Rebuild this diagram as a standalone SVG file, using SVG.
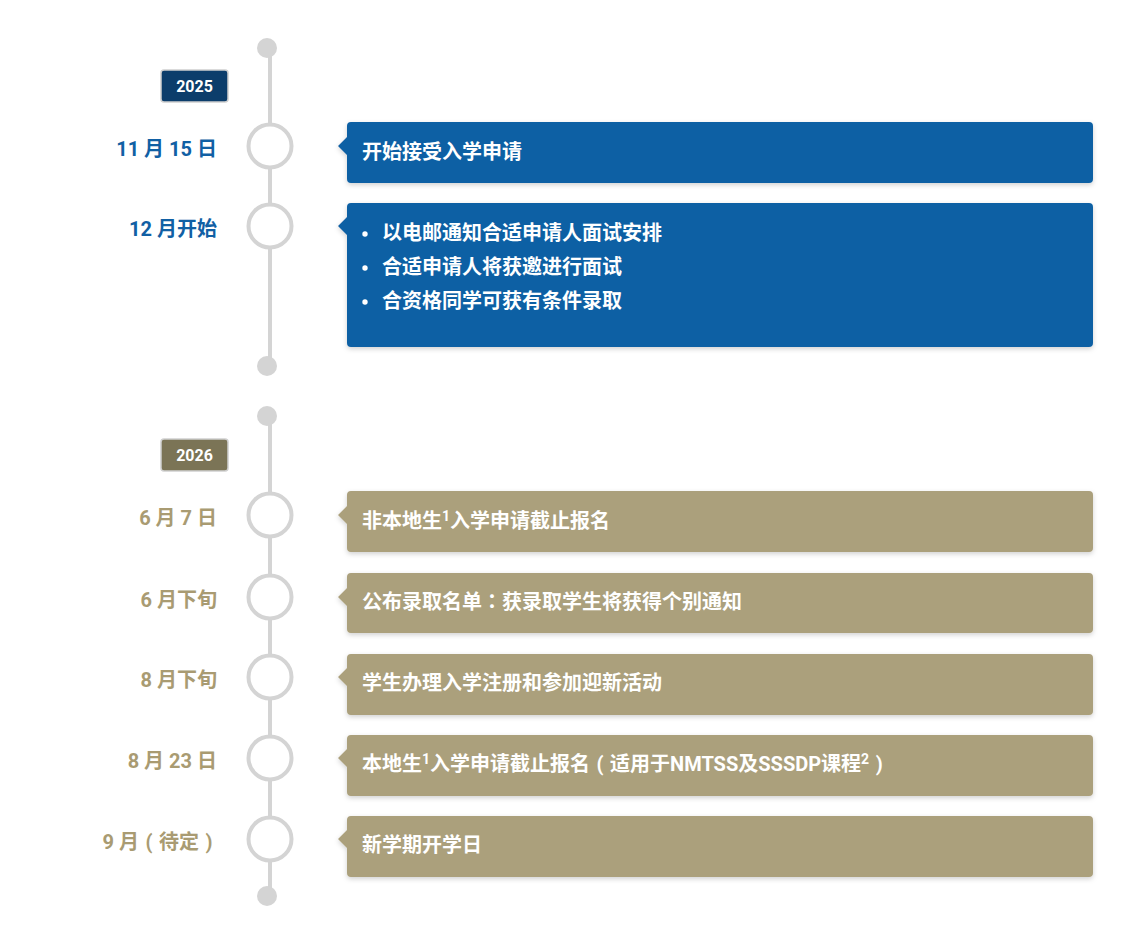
<svg xmlns="http://www.w3.org/2000/svg" width="1124" height="943" viewBox="0 0 1124 943">
<defs>
<filter id="sh" x="-5%" y="-20%" width="110%" height="150%">
<feDropShadow dx="0" dy="2" stdDeviation="2.5" flood-color="#000" flood-opacity="0.18"/>
</filter>
<style>
text{font-family:Roboto,"Noto Sans CJK SC",sans-serif;font-weight:bold}
.line{stroke:#d4d4d4;stroke-width:4;fill:none}
.dot{fill:#d4d4d4}
.ring{fill:#fff;stroke:#d4d4d4;stroke-width:4}
.blue{fill:#1160a4}
.tan{fill:#aba07c}
.bt{fill:#fff;font-size:20px}
.yr{fill:#fff;font-size:16px;text-anchor:middle}
.db{fill:#1160a4;font-size:20px;text-anchor:end}
.dt{fill:#a99b72;font-size:20px;text-anchor:end}
.sup{font-size:14px}
.tc{font-family:"Noto Sans CJK TC",sans-serif}
</style>
</defs>
<rect width="1124" height="943" fill="#fff"/>
<g id="connectors">
<line class="line" x1="270" y1="48" x2="270" y2="366"/>
<line class="line" x1="270" y1="416" x2="270" y2="896"/>
</g>
<g id="dots">
<circle class="dot" cx="267" cy="48" r="10"/>
<circle class="dot" cx="267" cy="366" r="10"/>
<circle class="dot" cx="267" cy="416" r="10"/>
<circle class="dot" cx="267" cy="896" r="10"/>
</g>
<g id="year2025">
<rect x="161" y="70" width="67" height="32" rx="3" fill="#0c3d6b" stroke="#cfcfcf" stroke-width="1.5"/>
<text class="yr" x="194.5" y="91.5">2025</text>
</g>
<g id="year2026">
<rect x="161" y="439" width="67" height="32" rx="3" fill="#7b7456" stroke="#cfcfcf" stroke-width="1.5"/>
<text class="yr" x="194.5" y="460.5">2026</text>
</g>
<g id="e1">
<circle class="ring" cx="270" cy="146" r="21.5"/>
<text class="db" x="217" y="156">11 月 15 日</text>
<path class="blue" filter="url(#sh)" d="M351,122H1089a4,4 0 0 1 4,4V179a4,4 0 0 1 -4,4H351a4,4 0 0 1 -4,-4V155L338,146L347,137V126a4,4 0 0 1 4,-4Z"/>
<text class="bt" x="362" y="159">开始接受入学申请</text>
</g>
<g id="e2">
<circle class="ring" cx="270" cy="226" r="21.5"/>
<text class="db" x="217" y="236">12 月开始</text>
<path class="blue" filter="url(#sh)" d="M351,203H1089a4,4 0 0 1 4,4V343a4,4 0 0 1 -4,4H351a4,4 0 0 1 -4,-4V235L338,226L347,217V207a4,4 0 0 1 4,-4Z"/>
<circle cx="365" cy="234" r="2.7" fill="#fff"/>
<circle cx="365" cy="268" r="2.7" fill="#fff"/>
<circle cx="365" cy="302" r="2.7" fill="#fff"/>
<text class="bt" x="382" y="240">以电邮通知合适申请人面试安排</text>
<text class="bt" x="382" y="274">合适申请人将获邀进行面试</text>
<text class="bt" x="382" y="308">合资格同学可获有条件录取</text>
</g>
<g id="e3">
<circle class="ring" cx="270" cy="515" r="21.5"/>
<text class="dt" x="217" y="525">6 月 7 日</text>
<path class="tan" filter="url(#sh)" d="M351,491H1089a4,4 0 0 1 4,4V548a4,4 0 0 1 -4,4H351a4,4 0 0 1 -4,-4V524L338,515L347,506V495a4,4 0 0 1 4,-4Z"/>
<text class="bt" x="362" y="528">非本地生<tspan class="sup" dy="-7">1</tspan><tspan dy="7">入学申请截止报名</tspan></text>
</g>
<g id="e4">
<circle class="ring" cx="270" cy="597" r="21.5"/>
<text class="dt" x="217" y="607">6 月下旬</text>
<path class="tan" filter="url(#sh)" d="M351,573H1089a4,4 0 0 1 4,4V629a4,4 0 0 1 -4,4H351a4,4 0 0 1 -4,-4V606L338,597L347,588V577a4,4 0 0 1 4,-4Z"/>
<text class="bt" x="362" y="609">公布录取名单<tspan class="tc">：</tspan>获录取学生将获得个别通知</text>
</g>
<g id="e5">
<circle class="ring" cx="270" cy="677" r="21.5"/>
<text class="dt" x="217" y="687">8 月下旬</text>
<path class="tan" filter="url(#sh)" d="M351,654H1089a4,4 0 0 1 4,4V711a4,4 0 0 1 -4,4H351a4,4 0 0 1 -4,-4V686L338,677L347,668V658a4,4 0 0 1 4,-4Z"/>
<text class="bt" x="362" y="690">学生办理入学注册和参加迎新活动</text>
</g>
<g id="e6">
<circle class="ring" cx="270" cy="758" r="21.5"/>
<text class="dt" x="217" y="768">8 月 23 日</text>
<path class="tan" filter="url(#sh)" d="M351,735H1089a4,4 0 0 1 4,4V792a4,4 0 0 1 -4,4H351a4,4 0 0 1 -4,-4V767L338,758L347,749V739a4,4 0 0 1 4,-4Z"/>
<text class="bt" x="362" y="771">本地生<tspan class="sup" dy="-7">1</tspan><tspan dy="7">入学申请截止报名</tspan><tspan dx="6.5">(</tspan><tspan dx="6.5">适用于NMTSS及SSSDP课程</tspan><tspan class="sup" dy="-7">2</tspan><tspan dy="7" dx="6.5">)</tspan></text>
</g>
<g id="e7">
<circle class="ring" cx="270" cy="839" r="21.5"/>
<text class="dt" x="212.5" y="849">9 月<tspan dx="6.5">(</tspan><tspan dx="6.5">待定</tspan><tspan dx="6.5">)</tspan></text>
<path class="tan" filter="url(#sh)" d="M351,816H1089a4,4 0 0 1 4,4V873a4,4 0 0 1 -4,4H351a4,4 0 0 1 -4,-4V848L338,839L347,830V820a4,4 0 0 1 4,-4Z"/>
<text class="bt" x="362" y="852">新学期开学日</text>
</g>
</svg>
